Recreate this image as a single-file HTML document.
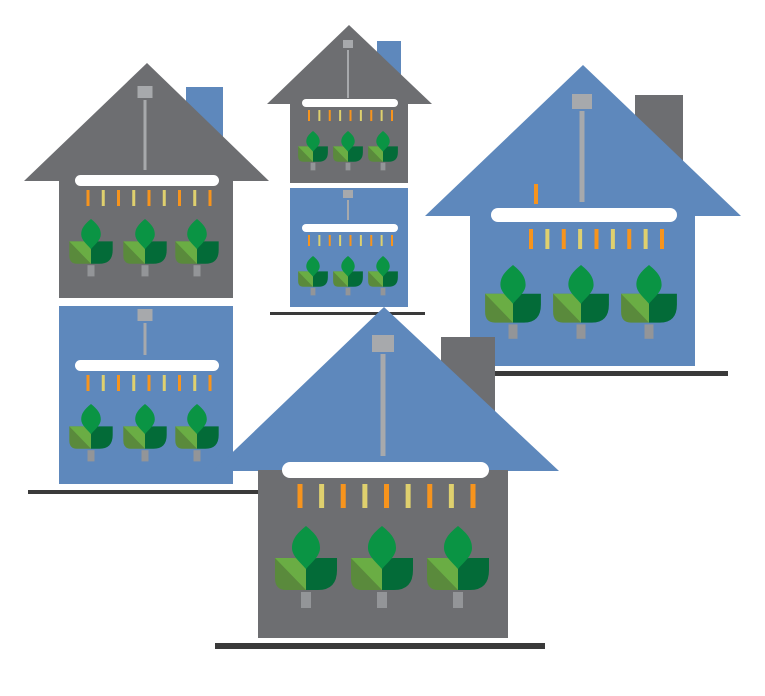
<!DOCTYPE html>
<html><head><meta charset="utf-8"><style>html,body{margin:0;padding:0;background:#fff}svg{display:block}</style></head>
<body>
<svg id="s" width="765" height="696" viewBox="0 0 765 696" xmlns="http://www.w3.org/2000/svg"></svg>
<script>
const S=document.getElementById('s');let h='';
const G='#6d6e71',B='#5e88bc',L='#a7a9ac',F='#3a3a3a';
function plant(cx,top,s){
 h+=`<g transform="translate(${cx},${top}) scale(${s})">
 <path d="M-31,32 L-12,32 Q0,32 0,44 L0,64 L-20,64 Q-31,64 -31,52 Z" fill="#5a8a3c"/>
 <path d="M-31,32 L-12,32 Q0,32 0,44 L0,64 Z" fill="#6aad44"/>
 <path d="M0,64 L0,44 Q0,32 12,32 L31,32 L31,44 Q31,64 12,64 Z" fill="#036b38"/>
 <path d="M0,0 C10,8 14,14 14,22 C14,30 6,36 0,43 C-6,36 -14,30 -14,22 C-14,14 -10,8 0,0 Z" fill="#0a9444"/>
 <rect x="-5" y="66" width="10" height="16" fill="#939598"/></g>`;
}
function lights(x0,x1,y,hh,w,n){for(let i=0;i<n;i++){const x=x0+(x1-x0)*i/(n-1);h+=`<rect x="${x-w/2}" y="${y}" width="${w}" height="${hh}" fill="${i%2?'#dfd06e':'#f7941d'}"/>`;}}
function lamp(cx,sy,sw,sh,rw,ry2){h+=`<rect x="${cx-sw/2}" y="${sy}" width="${sw}" height="${sh}" fill="${L}"/><rect x="${cx-rw/2}" y="${sy+sh+2}" width="${rw}" height="${ry2-sy-sh-2}" fill="${L}"/>`;}
function bar(x0,x1,y,hh){h+=`<rect x="${x0}" y="${y}" width="${x1-x0}" height="${hh}" rx="${hh/2}" fill="#fff"/>`;}
function rect(x,y,w,hh,c){h+=`<rect x="${x}" y="${y}" width="${w}" height="${hh}" fill="${c}"/>`;}
function tri(ax,ay,x0,x1,by,c){h+=`<polygon points="${ax},${ay} ${x1},${by} ${x0},${by}" fill="${c}"/>`;}
// House 1 top-left
rect(186,87,37,60,B);
tri(147,63,24,269,181,G);rect(59,180,174,118,G);
lamp(145,86,15,12,3,170);bar(75,219,175,11);lights(88,210,190,16,3,9);
[91,145,197].forEach(c=>plant(c,219,0.7));
rect(59,306,174,178,B);
lamp(145,309,15,12,3,355);bar(75,219,360,11);lights(88,210,375,16,3,9);
[91,145,197].forEach(c=>plant(c,404,0.7));
rect(28,490,240,4,F);
// House 2 top-middle
rect(377,41,24,40,B);
tri(349,25,267,432,104,G);rect(290,103,118,80,G);
lamp(348,40,10,8,2,98);bar(302,398,99,8);lights(309,392,110,11,2,9);
[313,348,383].forEach(c=>plant(c,131,0.48));
rect(290,188,118,119,B);
lamp(348,190,10,8,2,220);bar(302,398,224,8);lights(309,392,235,11,2,9);
[313,348,383].forEach(c=>plant(c,256,0.48));
rect(270,312,155,3,F);
// House 3 right
rect(635,95,48,70,G);
tri(583,65,425,741,216,B);rect(470,215,225,151,B);
lamp(582,94,20,15,5,202);bar(491,677,208,14);
h+=`<rect x="534" y="184" width="4" height="20" fill="#f7941d"/>`;
lights(531,662,229,20,4,9);
[513,581,649].forEach(c=>plant(c,265,0.9));
rect(495,371,233,5,F);
// House 4 bottom
rect(441,337,54,80,G);
tri(384,307,213,559,471,B);rect(258,470,250,168,G);
lamp(383,335,22,17,5,456);bar(282,489,462,16);lights(300,473,484,24,5,9);
[306,382,458].forEach(c=>plant(c,526,1));
rect(215,643,330,6,F);
S.innerHTML=h;
</script>
</body></html>
